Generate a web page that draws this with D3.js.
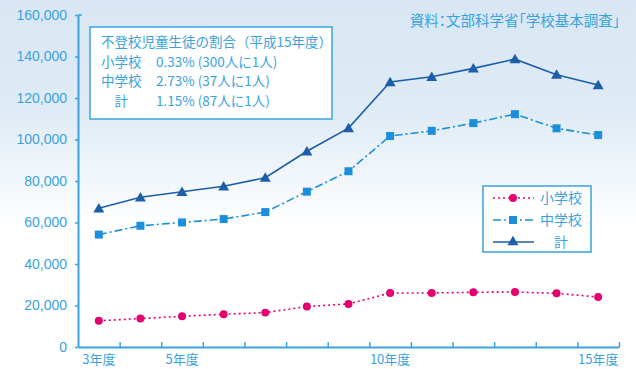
<!DOCTYPE html>
<html>
<head>
<meta charset="utf-8">
<script src="https://cdn.jsdelivr.net/npm/d3@7"></script>
<style>
  body { margin: 0; }
  svg { display: block; font-family: 'Noto Sans CJK JP', 'Liberation Sans', sans-serif; }
</style>
</head>
<body>
<div id="chart"></div>
<script>
// Data
const years = [3, 4, 5, 6, 7, 8, 9, 10, 11, 12, 13, 14, 15]
const elementary = [12650, 13710, 14770, 15790, 16570, 19500, 20770, 26020, 26050, 26370, 26510, 25870, 24080]
const juniorHigh = [54170, 58420, 60040, 61660, 65020, 74850, 84700, 101680, 104180, 107910, 112210, 105380, 102150]
const total = [66820, 72130, 74810, 77450, 81590, 94350, 105470, 127690, 130230, 134290, 138720, 131250, 126230]
const yTicks = [0, 20000, 40000, 60000, 80000, 100000, 120000, 140000, 160000]
const xLabels = [3, 5, 10, 15]
const boxLines = [
  ['不登校児童生徒の割合（平成15年度）', ''],
  ['小学校', '0.33% (300人に1人)'],
  ['中学校', '2.73% (37人に1人)'],
  ['　計', '1.15% (87人に1人)']
]
const sourceText = '資料：文部科学省「学校基本調査」'

const series = [
  { name: '小学校', values: elementary, color: '#e4006f', dash: '2,3', marker: 'circle' },
  { name: '中学校', values: juniorHigh, color: '#1b8fdc', dash: '8,3,2,3', marker: 'square' },
  { name: '計', values: total, color: '#1d5ea8', dash: null, marker: 'triangle' }
]

// Dimensions
const dimensions = { width: 636, height: 369 }
const plot = { left: 78, right: 619, top: 15, bottom: 347 }
const axisColor = '#3aa2de'

const svg = d3.select('#chart')
  .append('svg')
  .attr('width', dimensions.width)
  .attr('height', dimensions.height)

// Background gradient
const grad = svg.append('defs').append('linearGradient')
  .attr('id', 'bg')
  .attr('x1', 0).attr('y1', 0).attr('x2', 0).attr('y2', 1)
grad.append('stop').attr('offset', '0%').attr('stop-color', '#d8e7f3')
grad.append('stop').attr('offset', '30%').attr('stop-color', '#dfebf5')
grad.append('stop').attr('offset', '62%').attr('stop-color', '#ffffff')
grad.append('stop').attr('offset', '100%').attr('stop-color', '#ffffff')

svg.append('rect')
  .attr('width', dimensions.width)
  .attr('height', dimensions.height)
  .attr('fill', 'url(#bg)')

// Scales
const xScale = d3.scaleLinear()
  .domain([2.5, 15.5])
  .range([plot.left, plot.right])

const yScale = d3.scaleLinear()
  .domain([0, 160000])
  .range([plot.bottom, plot.top])

// Axes
const yAxis = d3.axisLeft(yScale)
  .tickValues(yTicks)
  .tickSize(3)
  .tickSizeOuter(0)
  .tickPadding(8)
  .tickFormat(d3.format(','))

const yAxisGroup = svg.append('g')
  .attr('transform', `translate(${plot.left},0)`)
  .call(yAxis)
yAxisGroup.selectAll('text')
  .attr('fill', axisColor)
  .style('font-family', "'Liberation Sans', Arial, sans-serif")
  .style('font-size', '14px')
yAxisGroup.selectAll('line').attr('stroke', axisColor).attr('stroke-width', 1.5)
yAxisGroup.select('.domain').attr('stroke', axisColor).attr('stroke-width', 2)

// small stub at the top of the y axis
svg.append('line')
  .attr('x1', plot.left).attr('x2', plot.left + 4)
  .attr('y1', yScale(160000)).attr('y2', yScale(160000))
  .attr('stroke', axisColor).attr('stroke-width', 1.5)

const xAxis = d3.axisBottom(xScale)
  .tickValues(d3.range(3.5, 15.6, 1))
  .tickSizeInner(-5)
  .tickSizeOuter(0)
  .tickFormat('')

const xAxisGroup = svg.append('g')
  .attr('transform', `translate(0,${plot.bottom})`)
  .call(xAxis)
xAxisGroup.selectAll('line').attr('stroke', axisColor).attr('stroke-width', 1.5)
xAxisGroup.select('.domain').attr('stroke', axisColor).attr('stroke-width', 2)

svg.append('g')
  .selectAll('text')
  .data(xLabels)
  .join('text')
  .attr('x', d => xScale(d))
  .attr('y', 364)
  .attr('text-anchor', 'middle')
  .attr('fill', axisColor)
  .style('font-size', '13px')
  .text(d => d + '年度')

// Lines
const line = d3.line()
  .x((d, i) => xScale(years[i]))
  .y(d => yScale(d))

const markerPath = {
  circle: d3.symbol(d3.symbolCircle, 50),
  square: d3.symbol(d3.symbolSquare, 64),
  triangle: d3.symbol(d3.symbolTriangle, 52)
}

series.forEach(s => {
  svg.append('path')
    .datum(s.values)
    .attr('fill', 'none')
    .attr('stroke', s.color)
    .attr('stroke-width', 1.6)
    .attr('stroke-dasharray', s.dash)
    .attr('d', line)

  svg.append('g')
    .selectAll('path')
    .data(s.values)
    .join('path')
    .attr('transform', (d, i) => `translate(${xScale(years[i])},${yScale(d) + (s.marker === 'triangle' ? 1 : 0)})`)
    .attr('d', markerPath[s.marker])
    .attr('fill', s.color)
})

// Info box
const box = svg.append('g').attr('transform', 'translate(90,27)')
box.append('rect')
  .attr('width', 242)
  .attr('height', 92)
  .attr('fill', '#ffffff')
  .attr('stroke', axisColor)
  .attr('stroke-width', 1.5)

box.selectAll('text.label')
  .data(boxLines)
  .join('text')
  .attr('class', 'label')
  .attr('x', 11)
  .attr('y', (d, i) => 20 + i * 19.5)
  .attr('fill', axisColor)
  .style('font-size', '13.5px')
  .text(d => d[0])

box.selectAll('text.value')
  .data(boxLines.filter(d => d[1]))
  .join('text')
  .attr('class', 'value')
  .attr('x', 66)
  .attr('y', (d, i) => 20 + (i + 1) * 19.5)
  .attr('fill', axisColor)
  .style('font-size', '13.5px')
  .text(d => d[1])

// Source
svg.append('text')
  .attr('x', 620)
  .attr('y', 26)
  .attr('text-anchor', 'end')
  .attr('fill', axisColor)
  .style('font-size', '14.5px')
  .style('font-feature-settings', "'palt'")
  .text(sourceText)

// Legend
const legend = svg.append('g').attr('transform', 'translate(483,186)')
legend.append('rect')
  .attr('width', 108)
  .attr('height', 66)
  .attr('fill', '#ffffff')
  .attr('stroke', axisColor)
  .attr('stroke-width', 1.5)

series.forEach((s, i) => {
  const row = legend.append('g').attr('transform', `translate(0,${12 + i * 22})`)
  row.append('line')
    .attr('x1', 10).attr('x2', 51)
    .attr('stroke', s.color)
    .attr('stroke-width', 1.6)
    .attr('stroke-dasharray', s.dash)
  row.append('path')
    .attr('transform', 'translate(30,0)')
    .attr('d', markerPath[s.marker])
    .attr('fill', s.color)
  row.append('text')
    .attr('x', s.name === '計' ? 78 : 57)
    .attr('y', 5)
    .attr('text-anchor', s.name === '計' ? 'middle' : 'start')
    .attr('fill', axisColor)
    .style('font-size', '14px')
    .text(s.name)
})
</script>
</body>
</html>
